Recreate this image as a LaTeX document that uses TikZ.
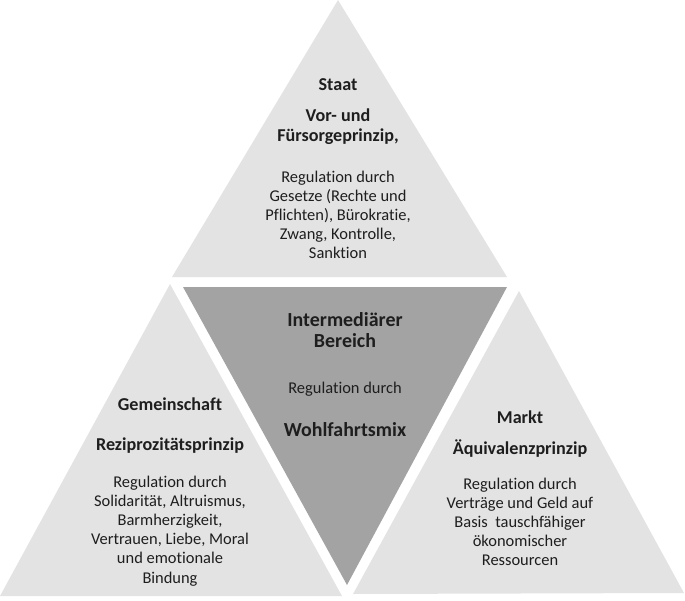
\documentclass[tikz,border=0pt]{standalone}
\usepackage{fontspec}
\setmainfont{Carlito}[Ligatures={NoCommon}]
\definecolor{outerfill}{HTML}{E3E3E3}
\definecolor{innerfill}{HTML}{A3A3A3}
\definecolor{textc}{HTML}{1E1E1E}
\begin{document}
\begin{tikzpicture}[x=1bp,y=-1bp,
  txt/.style={inner sep=0pt, align=center, text=textc, font=\fontsize{16.5}{19.2}\selectfont},
  hdr/.style={inner sep=0pt, align=center, text=textc, font=\fontsize{18.2}{19.8}\selectfont\bfseries},
  bighdr/.style={inner sep=0pt, align=center, text=textc, font=\fontsize{20}{21}\selectfont\bfseries},
  outer/.style={fill=outerfill, draw=none},
  inner/.style={fill=innerfill, draw=none}]
\useasboundingbox (0,0) rectangle (685,601);
% triangles
\coordinate (tA) at (338,0);   \coordinate (tL) at (172,277); \coordinate (tR) at (507,277);
\coordinate (lA) at (170,284); \coordinate (lL) at (0,596);   \coordinate (lR) at (342,596);
\coordinate (mL) at (183,287); \coordinate (mR) at (507,287); \coordinate (mB) at (347,585);
\coordinate (rA) at (519,291); \coordinate (rL) at (353,594); \coordinate (rR) at (684,593);
\fill[outer] (tA) -- (tL) -- (tR) -- cycle;
\fill[outer] (lA) -- (lL) -- (lR) -- cycle;
\fill[inner] (mL) -- (mR) -- (mB) -- cycle;
\fill[outer] (rA) -- (rL) -- (rR) -- cycle;
% top: Staat
\node[hdr] (staat) at (338,85) {Staat};
\node[hdr] (staatp) at (338,127) {Vor- und\\Fürsorgeprinzip,};
\node[txt] (staatr) at (338,215) {Regulation durch\\Gesetze (Rechte und\\Pflichten), Bürokratie,\\Zwang, Kontrolle,\\Sanktion};
% middle
\node[bighdr] (interm) at (345,330) {Intermediärer\\Bereich};
\node[txt] (intermr) at (345,389) {Regulation durch};
\node[bighdr] (wohl) at (345,430) {Wohlfahrtsmix};
% left: Gemeinschaft
\node[hdr] (gem) at (170,404) {Gemeinschaft};
\node[hdr] (gemp) at (170,446) {Reziprozitätsprinzip};
\node[txt] (gemr) at (170,531) {Regulation durch\\Solidarität, Altruismus,\\Barmherzigkeit,\\Vertrauen, Liebe, Moral\\und emotionale\\Bindung};
% right: Markt
\node[hdr] (markt) at (520,417) {Markt};
\node[hdr] (marktp) at (520,449) {Äquivalenzprinzip};
\node[txt] (marktr) at (520,522) {Regulation durch\\Verträge und Geld auf\\Basis\ \ tauschfähiger\\ökonomischer\\Ressourcen};
\end{tikzpicture}
\end{document}
